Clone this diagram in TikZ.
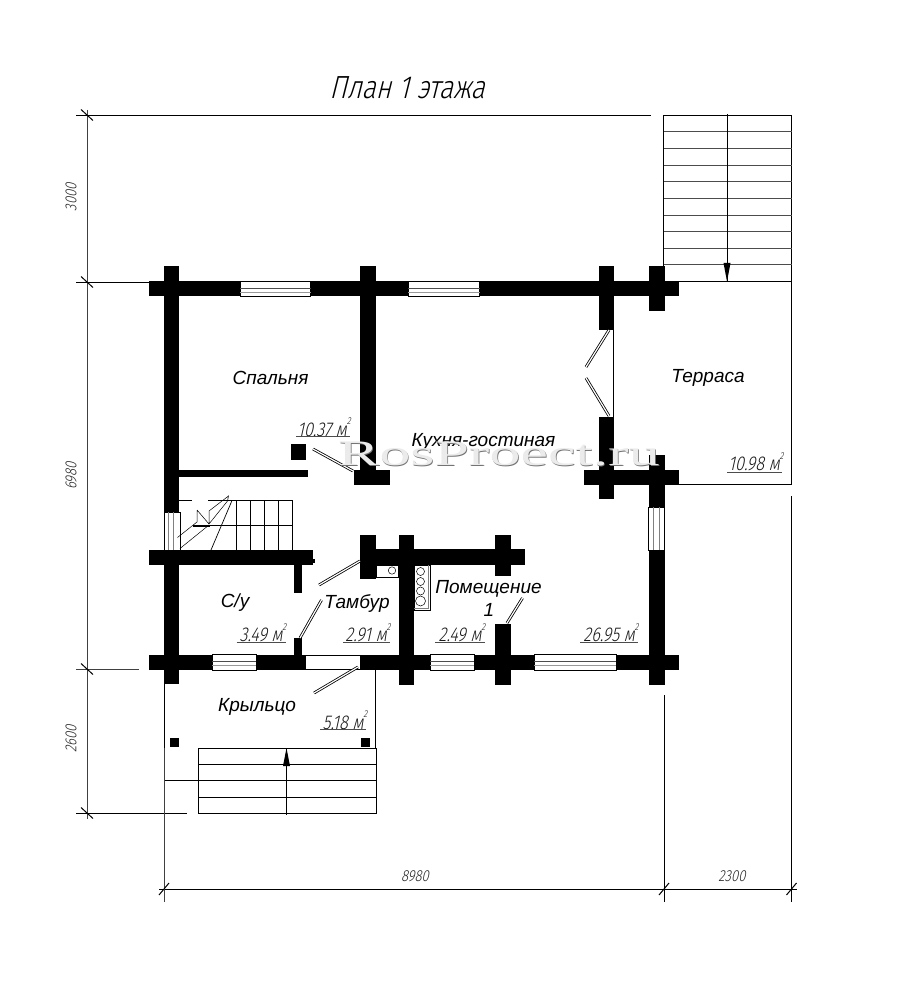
\documentclass[tikz,border=0pt]{standalone}
\usepackage{fontspec}
\setmainfont{Liberation Sans}
\newfontfamily\roomfont[ItalicFont={Liberation Sans Italic}]{Liberation Sans}
\newfontfamily\gost[FakeStretch=0.82,FakeSlant=0.22]{Fira Sans Light}
\newfontfamily\gosttitle[FakeStretch=0.82,FakeSlant=0.25]{Fira Sans Light}
\newfontfamily\wmfont[FakeStretch=1.72]{Liberation Serif}
\newcommand{\fsz}[1]{\fontsize{#1}{#1}\selectfont}
\newcommand{\wallr}[4]{\fill[wallc] (#1,#2) rectangle (#3,#4);}
\newcommand{\hwin}[4]{% x1 x2 ytop ybottom horizontal window
  \fill[white] (#1,#3) rectangle (#2,#4);
  \draw[thinl] (#1,#3) rectangle (#2,#4);
  \draw[thinl,black!70] (#1,{#3+6.8}) -- (#2,{#3+6.8});
  \draw[thinl,black!40] (#1,{#3+10.5}) -- (#2,{#3+10.5});
}
\tikzset{
  wallc/.style={fill=black},
  thinl/.style={draw=black,line width=0.7pt},
  dimline/.style={draw=black!75,line width=0.7pt},
  boldl/.style={draw=black,line width=1.1pt},
  leaf/.style={draw=black,line width=0.8pt,double=white,double distance=1.2pt},
  room/.style={font=\roomfont\itshape\fsz{19},inner sep=0pt,text=black},
  arealab/.style={font=\gost\fsz{20},inner sep=0pt,text=black!90},
  dimlab/.style={font=\gost\fsz{16},inner sep=0pt,text=black!85},
  titlelab/.style={font=\gosttitle\fsz{32},inner sep=0pt,text=black},
  underl/.style={draw=black!70,line width=0.7pt},
  tick/.style={draw=black,line width=1pt},
  arrowfill/.style={fill=black}
}
\begin{document}
\begin{tikzpicture}[x=1pt,y=-1pt]
\useasboundingbox[fill=white] (0,0) rectangle (900,981);

% --- dimension lines
\draw[dimline] (87,110) -- (87,819);
\draw[boldl,line width=.8pt] (76,115) -- (651,115);
\draw[boldl,line width=.8pt] (76,282) -- (160,282);
\draw[dimline] (76,669) -- (139,669);
\draw[boldl,line width=.8pt] (76,813) -- (187,813);
\foreach \yy in {115,282,669,813} {\draw[tick] (81,\yy-5.5) -- (93,\yy+5.5);}
\draw[boldl,line width=.8pt] (159,889) -- (797,889);
\draw[dimline] (164,684) -- (164,902);
\draw[thinl] (664,695) -- (664,902);
\draw[thinl] (791.5,496) -- (791.5,902);
\foreach \xx in {164,664,791.5} {\draw[tick] (\xx-5,889+6) -- (\xx+5,889-6);}
\node[dimlab] (d3000) at (71,197) {\rotatebox{90}{3000}};
\node[dimlab] (d6980) at (71,476) {\rotatebox{90}{6980}};
\node[dimlab] (d2600) at (71,739) {\rotatebox{90}{2600}};
\node[dimlab] (d8980) at (415,876) {8980};
\node[dimlab] (d2300) at (732,876) {2300};

% --- title
\node[titlelab] (title) at (407,88) {План 1 этажа};

% --- terrace stairs
\draw[thinl,line width=.9pt] (663.5,115) rectangle (791.5,281.5);
\foreach \i in {1,...,9} {\draw[thinl,draw=black!70] (663.5,115+16.65*\i) -- (791.5,115+16.65*\i);}
\draw[thinl,line width=.8pt] (727,114) -- (727,281);
\fill[arrowfill] (723.5,263) -- (730.5,263) -- (727,281.5) -- cycle;
\draw[boldl,line width=1.4pt] (664,281.5) -- (791.5,281.5);
% --- terrace outline
\draw[thinl] (791.5,281.5) -- (791.5,484) -- (679,484);
\draw[thinl] (613.5,330) -- (613.5,417);

% --- walls
\wallr{149}{281}{679}{296}
\wallr{163.5}{266}{179}{684}
\wallr{360}{266}{376}{485}
\wallr{354}{470}{390}{485}
\wallr{179}{469.5}{308}{476.5}
\wallr{291}{444}{306}{460}
\wallr{149}{550}{312.5}{565}
\wallr{312}{559}{315}{563}
\wallr{294}{565}{302}{593}
\wallr{294}{638}{302}{655}
\wallr{149}{655}{679}{670}
\wallr{398.5}{535}{414}{685}
\wallr{360}{549}{525}{565}
\wallr{360}{535}{376}{579}
\wallr{494.5}{535}{510.5}{576}
\wallr{494.5}{624}{510.5}{685}
\wallr{648.5}{455}{664.5}{685}
\wallr{598.5}{266}{614}{330}
\wallr{648.5}{266}{664.5}{311}
\wallr{598.5}{416.5}{614}{499}
\wallr{584}{469.5}{679}{485}

% --- windows
\hwin{240}{310.5}{281.5}{296.5}
\hwin{408}{479.5}{281.5}{296.5}
\hwin{212}{256}{654.5}{670}
\hwin{430}{474}{654.5}{670}
\hwin{534}{616}{654.5}{670}
% door opening
\fill[white] (306,655) rectangle (360,669);
\draw[thinl] (306,655) -- (360,655);
\draw[thinl] (306,669) -- (375,669);
% vertical windows
\fill[white] (164,512) rectangle (180,550);
\draw[thinl] (164,512) rectangle (180,550);
\draw[thinl,draw=black!50] (168,512) -- (168,550) (173,512) -- (173,550);
\fill[white] (648.5,507) rectangle (664.5,550);
\draw[thinl] (648.5,507) rectangle (664.5,550);
\draw[thinl,draw=black!50] (653,507) -- (653,550) (659,507) -- (659,550);

% --- door leaves
\draw[leaf] (313,449) -- (353,471);
\draw[leaf] (319,585) -- (360,561);
\draw[leaf] (300,638) -- (321.5,600);
\draw[leaf] (314,693) -- (358,667);
\draw[leaf] (507,623) -- (522.5,598);
\draw[leaf] (609,330) -- (586,367);
\draw[leaf] (586,378) -- (609,416);

% --- inner stairs
\draw[thinl] (179,500) -- (192,500) (208,500) -- (292,500);
\foreach \xx in {236.5,250,264,278,292} {\draw[thinl] (\xx,500) -- (\xx,550);}
\draw[thinl] (193,525.5) -- (292,525.5);
\fill[black] (193,524.5) rectangle (210,527);
\draw[thinl] (211,550) -- (232,500.5);
\draw[thinl,line width=.5pt] (177.5,537.5) -- (197,522) (197,510) -- (209,524)
  (209,511) -- (228.5,496) -- (227.5,501) -- (209,524) (197,510) -- (197,522)
  (209,511) -- (209,524) (180,548.5) -- (209,525);

% --- kitchen fittings
\draw[thinl,line width=.5pt] (376,565) rectangle (398,577.5);
\draw[thinl,line width=.5pt] (392,570.5) circle (3.7);
\draw[thinl,line width=.5pt] (414,565) rectangle (430.5,610);
\draw[thinl,draw=black!50,line width=.5pt] (414,608) -- (428.5,608) -- (428.5,565);
\foreach \yy/\rr in {571.5/4,581.5/4,591/4,601/5} {\draw[thinl,line width=.5pt] (420.5,\yy) circle (\rr);}

% --- porch
\draw[boldl] (164.5,684) -- (164.5,748);
\draw[thinl] (375.5,670) -- (375.5,748);
\fill[black] (169.5,738) rectangle (178.5,747);
\fill[black] (360.5,738) rectangle (370,747);
\draw[thinl] (165,780.5) -- (198,780.5);
\draw[thinl] (198,748) rectangle (376,813.5);
\draw[thinl] (198,764) -- (376,764) (198,780.5) -- (376,780.5) (198,797) -- (376,797);
\draw[thinl] (286.5,748) -- (286.5,815);
\fill[arrowfill] (286.5,748) -- (290,766) -- (283,766) -- cycle;

% --- room labels
\node[room] (spalnya) at (270.5,377.5) {Спальня};
\node[room] (kuhnya) at (483.5,441.5) {Кухня-гостиная};
\node[room] (terrasa) at (708,378) {Терраса};
\node[room] (su) at (235,603) {С/у};
\node[room] (tambur) at (357,603) {Тамбур};
\node[room] (pom) at (488.5,589) {Помещение};
\node[room] (pomn) at (489,610) {1};
\node[room] (krylco) at (257,707) {Крыльцо};

% --- areas
\newcommand{\areaval}[1]{#1 м\raisebox{1.1ex}{\fsz{10}2}}
\node[arealab] (a1) at (324,427) {\areaval{10.37}};
\draw[underl] (296,436) -- (350,436);
\node[arealab] (a2) at (263,633) {\areaval{3.49}};
\draw[underl] (236.5,642) -- (286,642);
\node[arealab] (a3) at (368,633) {\areaval{2.91}};
\draw[underl] (343,642) -- (390,642);
\node[arealab] (a4) at (462,633) {\areaval{2.49}};
\draw[underl] (435,642.5) -- (485,642.5);
\node[arealab] (a5) at (611,633) {\areaval{26.95}};
\draw[underl] (580,642.5) -- (638,642.5);
\node[arealab] (a6) at (756,462) {\areaval{10.98}};
\draw[underl] (727,472) -- (782,472);
\node[arealab] (a7) at (345,720) {\areaval{5.18}};
\draw[underl] (320,729) -- (366,729);

% --- watermark
\node[font=\wmfont\fsz{36},inner sep=0pt,text=black!55] (wm0) at (499.7,454.7) {RosProect.ru};
\node[font=\wmfont\fsz{36},inner sep=0pt,text=black!8] (wm) at (499,454) {RosProect.ru};
\end{tikzpicture}
\end{document}
